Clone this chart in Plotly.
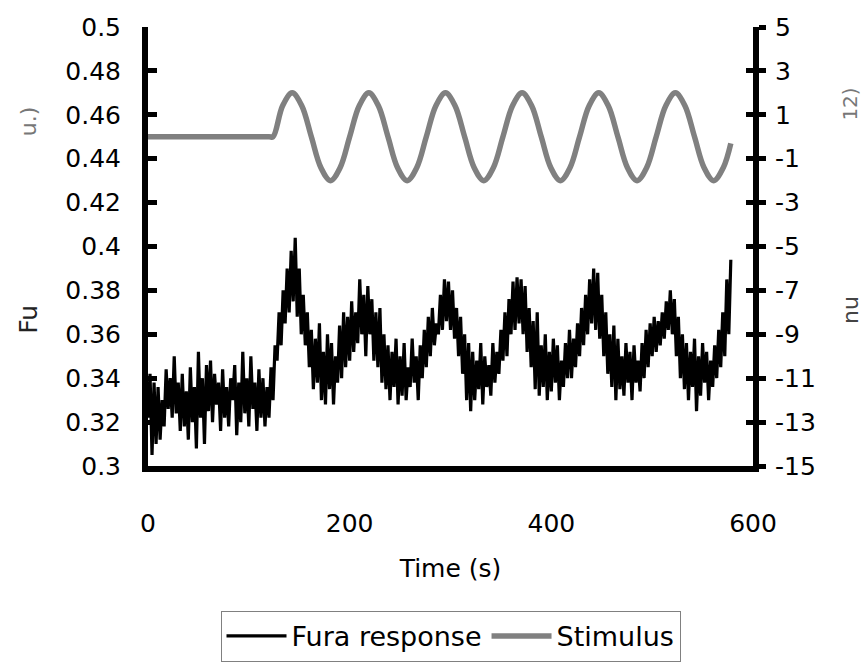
import plotly.graph_objects as go

# ---------------- data ----------------
fura_time = list(range(0, 580, 2))
fura_values = [
    0.322, 0.342, 0.305, 0.338, 0.310, 0.336, 0.312, 0.330, 0.318, 0.344,
    0.326, 0.340, 0.322, 0.350, 0.324, 0.338, 0.316, 0.342, 0.318, 0.334,
    0.312, 0.345, 0.320, 0.336, 0.308, 0.352, 0.322, 0.340, 0.310, 0.346,
    0.325, 0.348, 0.320, 0.342, 0.328, 0.338, 0.316, 0.344, 0.322, 0.336,
    0.318, 0.340, 0.330, 0.346, 0.314, 0.338, 0.320, 0.352, 0.324, 0.340,
    0.318, 0.350, 0.326, 0.338, 0.316, 0.344, 0.322, 0.340, 0.318, 0.336,
    0.322, 0.345, 0.330, 0.355, 0.348, 0.370, 0.355, 0.380, 0.365, 0.390,
    0.370, 0.398, 0.375, 0.404, 0.368, 0.390, 0.360, 0.378, 0.355, 0.370,
    0.345, 0.362, 0.335, 0.358, 0.338, 0.365, 0.330, 0.352, 0.328, 0.360,
    0.335, 0.356, 0.328, 0.350, 0.338, 0.364, 0.340, 0.370, 0.345, 0.368,
    0.348, 0.375, 0.352, 0.370, 0.356, 0.385, 0.360, 0.378, 0.350, 0.382,
    0.360, 0.376, 0.348, 0.370, 0.345, 0.372, 0.338, 0.360, 0.335, 0.355,
    0.330, 0.352, 0.336, 0.358, 0.328, 0.350, 0.332, 0.356, 0.330, 0.345,
    0.336, 0.358, 0.338, 0.350, 0.330, 0.355, 0.340, 0.362, 0.345, 0.368,
    0.350, 0.372, 0.355, 0.365, 0.360, 0.378, 0.362, 0.385, 0.366, 0.384,
    0.362, 0.380, 0.358, 0.372, 0.350, 0.368, 0.342, 0.360, 0.330, 0.356,
    0.325, 0.352, 0.330, 0.348, 0.335, 0.356, 0.328, 0.350, 0.336, 0.346,
    0.332, 0.356, 0.338, 0.352, 0.342, 0.362, 0.348, 0.370, 0.350, 0.376,
    0.360, 0.384, 0.362, 0.386, 0.365, 0.385, 0.360, 0.382, 0.352, 0.372,
    0.345, 0.366, 0.335, 0.370, 0.332, 0.355, 0.336, 0.360, 0.330, 0.352,
    0.334, 0.358, 0.338, 0.355, 0.330, 0.348, 0.336, 0.356, 0.340, 0.362,
    0.340, 0.358, 0.345, 0.365, 0.350, 0.372, 0.355, 0.378, 0.360, 0.385,
    0.365, 0.390, 0.362, 0.388, 0.358, 0.378, 0.350, 0.370, 0.342, 0.360,
    0.336, 0.364, 0.330, 0.358, 0.335, 0.350, 0.332, 0.356, 0.338, 0.352,
    0.330, 0.355, 0.338, 0.348, 0.334, 0.356, 0.340, 0.362, 0.345, 0.365,
    0.350, 0.368, 0.352, 0.366, 0.355, 0.370, 0.358, 0.375, 0.362, 0.380,
    0.360, 0.376, 0.350, 0.368, 0.340, 0.360, 0.335, 0.356, 0.330, 0.352,
    0.336, 0.358, 0.325, 0.350, 0.332, 0.356, 0.338, 0.352, 0.330, 0.348,
    0.336, 0.355, 0.340, 0.362, 0.345, 0.370, 0.350, 0.385, 0.360, 0.394,
]

stim_time = [
    0, 120, 124,
    133.5, 143, 152.5, 162, 171.5, 181, 190.5, 200,
    209.5, 219, 228.5, 238, 247.5, 257, 266.5, 276,
    285.5, 295, 304.5, 314, 323.5, 333, 342.5, 352,
    361.5, 371, 380.5, 390, 399.5, 409, 418.5, 428,
    437.5, 447, 456.5, 466, 475.5, 485, 494.5, 504,
    513.5, 523, 532.5, 542, 551.5, 561, 570.5, 578,
]
stim_values = [
    0, 0, 0,
    1.41, 2, 1.41, 0, -1.41, -2, -1.41, 0,
    1.41, 2, 1.41, 0, -1.41, -2, -1.41, 0,
    1.41, 2, 1.41, 0, -1.41, -2, -1.41, 0,
    1.41, 2, 1.41, 0, -1.41, -2, -1.41, 0,
    1.41, 2, 1.41, 0, -1.41, -2, -1.41, 0,
    1.41, 2, 1.41, 0, -1.41, -2, -1.41, -0.3,
]

left_tickvals = [0.3, 0.32, 0.34, 0.36, 0.38, 0.4, 0.42, 0.44, 0.46, 0.48, 0.5]
left_ticktext = ["0.3", "0.32", "0.34", "0.36", "0.38", "0.4", "0.42", "0.44", "0.46", "0.48", "0.5"]
right_tickvals = [-15, -13, -11, -9, -7, -5, -3, -1, 1, 3, 5]
right_ticktext = ["-15", "-13", "-11", "-9", "-7", "-5", "-3", "-1", "1", "3", "5"]
x_tickvals = [0, 200, 400, 600]
x_ticktext = ["0", "200", "400", "600"]

FONT = "DejaVu Sans, Liberation Sans, Arial, sans-serif"
FS = 25

fig = go.Figure()
fig.add_trace(go.Scatter(
    x=fura_time, y=fura_values, mode="lines", name="Fura response",
    line=dict(color="black", width=3.2), yaxis="y",
))
fig.add_trace(go.Scatter(
    x=stim_time, y=stim_values, mode="lines", name="Stimulus",
    line=dict(color="#808080", width=5.5, shape="spline", smoothing=1.0), yaxis="y2",
))
fig.add_trace(go.Scatter(x=[None], y=[None], yaxis="y3", showlegend=False, hoverinfo="skip"))

fig.update_layout(
    width=866, height=662,
    margin=dict(l=148, r=113, t=27, b=196, autoexpand=False),
    paper_bgcolor="white", plot_bgcolor="white",
    font=dict(family=FONT, size=FS, color="black"),
    showlegend=True,
    legend=dict(
        orientation="h", x=0.5, xanchor="center", y=-0.33, yanchor="top",
        bordercolor="#808080", borderwidth=1, bgcolor="white",
        font=dict(size=27, family=FONT), itemwidth=60, tracegroupgap=0,
    ),
    xaxis=dict(
        range=[0, 600], tickvals=x_tickvals, ticktext=x_ticktext,
        showgrid=False, zeroline=False,
        showline=True, linecolor="black", linewidth=6,
        ticks="", ticklabelstandoff=30,
        title=dict(text="Time (s)", standoff=24, font=dict(size=FS)),
    ),
    yaxis=dict(
        range=[0.3, 0.5], tickvals=left_tickvals, ticktext=left_ticktext,
        showgrid=False, zeroline=False,
        showline=True, linecolor="black", linewidth=6,
        ticks="inside", ticklen=9, tickwidth=5, tickcolor="black",
        ticklabelstandoff=16,
    ),
    yaxis2=dict(
        range=[-15, 5], tickvals=right_tickvals, ticktext=right_ticktext,
        overlaying="y", side="right", anchor="x",
        showgrid=False, zeroline=False,
        showline=True, linecolor="black", linewidth=6,
        ticks="outside", ticklen=7, tickwidth=5, tickcolor="black",
        ticklabelstandoff=4,
    ),
    yaxis3=dict(
        range=[-15, 5], tickvals=right_tickvals,
        overlaying="y", side="right", anchor="x",
        showgrid=False, zeroline=False, showline=False,
        showticklabels=False,
        ticks="inside", ticklen=7, tickwidth=5, tickcolor="black",
    ),
)

# partially visible axis titles
fig.add_annotation(text="Fu", xref="paper", yref="paper", x=-0.197, y=0.335,
                   xanchor="center", yanchor="middle",
                   textangle=-90, showarrow=False, font=dict(size=FS, color="#222"))
fig.add_annotation(text="u.)", xref="paper", yref="paper", x=-0.197, y=0.785,
                   xanchor="center", yanchor="middle",
                   textangle=-90, showarrow=False, font=dict(size=22, color="#777"))
fig.add_annotation(text="nu", xref="paper", yref="paper", x=1.16, y=0.355,
                   xanchor="center", yanchor="middle",
                   textangle=-90, showarrow=False, font=dict(size=22, color="#444"))
fig.add_annotation(text="12)", xref="paper", yref="paper", x=1.16, y=0.825,
                   xanchor="center", yanchor="middle",
                   textangle=-90, showarrow=False, font=dict(size=20, color="#777"))

fig.write_html("out.html")
